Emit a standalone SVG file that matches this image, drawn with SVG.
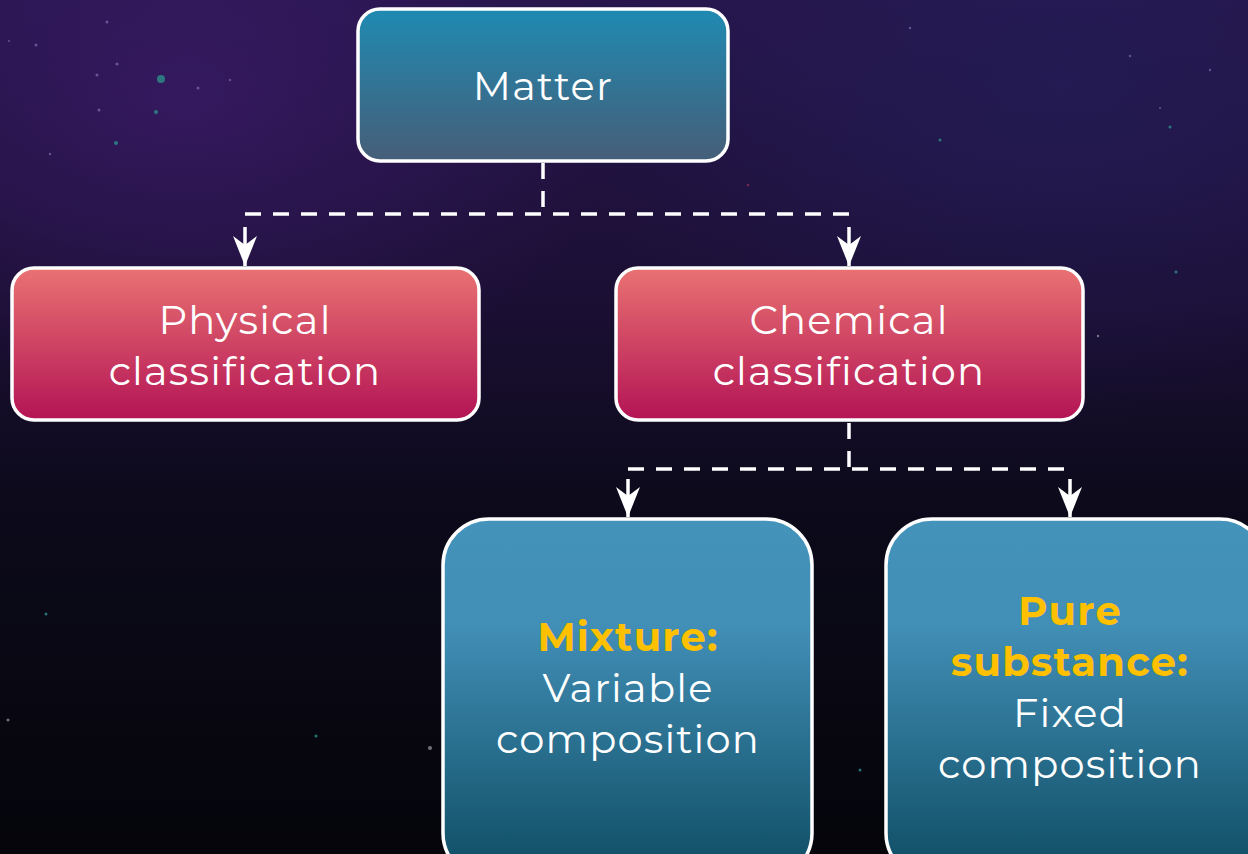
<svg xmlns="http://www.w3.org/2000/svg" width="1248" height="854" viewBox="0 0 1248 854">
<defs>
<linearGradient id="bg" x1="0" y1="0" x2="0" y2="1">
<stop offset="0" stop-color="#26154a"/>
<stop offset="0.35" stop-color="#1b0f34"/>
<stop offset="0.6" stop-color="#0c0a1a"/>
<stop offset="1" stop-color="#05050b"/>
</linearGradient>
<radialGradient id="neb1" cx="0.15" cy="0.12" r="0.35">
<stop offset="0" stop-color="#4a2080" stop-opacity="0.45"/>
<stop offset="1" stop-color="#4a2080" stop-opacity="0"/>
</radialGradient>
<radialGradient id="neb2" cx="0.85" cy="0.1" r="0.4">
<stop offset="0" stop-color="#24205e" stop-opacity="0.6"/>
<stop offset="1" stop-color="#24205e" stop-opacity="0"/>
</radialGradient>
<linearGradient id="gTop" x1="0" y1="0" x2="0" y2="1">
<stop offset="0" stop-color="#1f8ab2"/>
<stop offset="1" stop-color="#465e78"/>
</linearGradient>
<linearGradient id="gPink" x1="0" y1="0" x2="0" y2="1">
<stop offset="0" stop-color="#e97272"/>
<stop offset="1" stop-color="#b31455"/>
</linearGradient>
<linearGradient id="gBlue" x1="0" y1="0" x2="0" y2="1">
<stop offset="0" stop-color="#4493bb"/>
<stop offset="0.3" stop-color="#418eb6"/>
<stop offset="1" stop-color="#0e4c62"/>
</linearGradient>
<marker id="arr" viewBox="0 0 30 24" refX="30" refY="12" markerWidth="30" markerHeight="24" markerUnits="userSpaceOnUse" orient="auto">
<path d="M0,0 L30,12 L0,24 L9,12 Z" fill="#ffffff"/>
</marker>
<style>
.box{stroke:#ffffff;stroke-width:3.5}
.t{font-family:"Montserrat","Open Sans","Liberation Sans",sans-serif;font-size:40px;fill:#ffffff;text-anchor:middle;letter-spacing:1.2px}
.b{font-weight:bold;fill:#ffc000}
.c{fill:none;stroke:#ffffff;stroke-width:3.5;stroke-dasharray:16 12}
.s{fill:none;stroke:#ffffff;stroke-width:3.5}
</style>
</defs>
<rect width="1248" height="854" fill="url(#bg)"/>
<rect width="1248" height="854" fill="url(#neb1)"/>
<rect width="1248" height="854" fill="url(#neb2)"/>
<g fill="#7f6fb0" opacity="0.7">
<circle cx="107" cy="22" r="1.5"/><circle cx="36" cy="45" r="1.5"/><circle cx="117" cy="64" r="1.5"/><circle cx="97" cy="75" r="1.5"/><circle cx="198" cy="88" r="1.5"/><circle cx="230" cy="80" r="1.2"/><circle cx="99" cy="110" r="1.5"/><circle cx="50" cy="154" r="1.2"/><circle cx="9" cy="41" r="1"/><circle cx="1130" cy="56" r="1.2"/><circle cx="1210" cy="70" r="1.2"/><circle cx="1160" cy="108" r="1"/><circle cx="910" cy="28" r="1.2"/><circle cx="748" cy="185" r="1.2" fill="#a03060"/>
</g>
<g fill="#2e8f8a" opacity="0.8">
<circle cx="161" cy="79" r="4"/><circle cx="156" cy="112" r="2"/><circle cx="116" cy="143" r="2"/><circle cx="940" cy="140" r="1.5"/><circle cx="1170" cy="127" r="1.5"/><circle cx="1176" cy="272" r="1.5"/><circle cx="46" cy="614" r="1.5"/><circle cx="316" cy="736" r="1.5"/><circle cx="860" cy="770" r="1.5"/>
</g>
<g fill="#bbbbbb" opacity="0.6">
<circle cx="430" cy="748" r="2"/><circle cx="8" cy="720" r="1.5"/><circle cx="1098" cy="336" r="1.2"/>
</g>
<g id="connectors">
<path class="c" d="M543,163 V214"/>
<path class="c" d="M245,214 H849"/>
<path class="s" d="M245,227 V266" marker-end="url(#arr)"/>
<path class="s" d="M849,227 V266" marker-end="url(#arr)"/>
<path class="c" d="M849,423 V469"/>
<path class="c" d="M628,469 H1070"/>
<path class="s" d="M628,479 V517" marker-end="url(#arr)"/>
<path class="s" d="M1070,479 V517" marker-end="url(#arr)"/>
</g>
<g id="matter">
<rect class="box" x="358" y="9" width="370" height="152" rx="22" fill="url(#gTop)"/>
<text class="t" x="543" y="100">Matter</text>
</g>
<g id="physical">
<rect class="box" x="12" y="268" width="467" height="152" rx="22" fill="url(#gPink)"/>
<text class="t" x="245" y="334">Physical</text>
<text class="t" x="245" y="385">classification</text>
</g>
<g id="chemical">
<rect class="box" x="616" y="268" width="467" height="152" rx="22" fill="url(#gPink)"/>
<text class="t" x="849" y="334">Chemical</text>
<text class="t" x="849" y="385">classification</text>
</g>
<g id="mixture">
<rect class="box" x="443" y="519" width="369" height="360" rx="46" fill="url(#gBlue)"/>
<text class="t b" x="628" y="651">Mixture:</text>
<text class="t" x="628" y="702">Variable</text>
<text class="t" x="628" y="753">composition</text>
</g>
<g id="pure">
<rect class="box" x="886" y="519" width="380" height="360" rx="46" fill="url(#gBlue)"/>
<text class="t b" x="1070" y="625">Pure</text>
<text class="t b" x="1070" y="676">substance:</text>
<text class="t" x="1070" y="727">Fixed</text>
<text class="t" x="1070" y="778">composition</text>
</g>
</svg>
